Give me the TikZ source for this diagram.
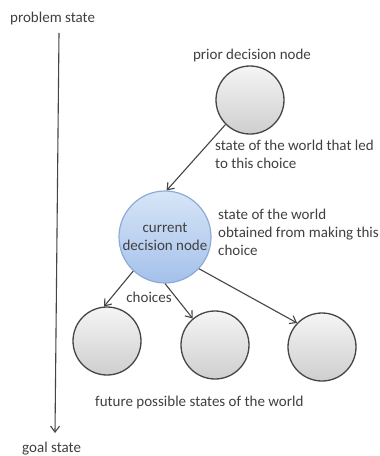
\documentclass[tikz,border=0pt]{standalone}
\usepackage{fontspec}
\setmainfont{Carlito}
\usetikzlibrary{arrows.meta}
\definecolor{txt}{HTML}{404040}
\definecolor{edge}{HTML}{454545}
\definecolor{blueedge}{HTML}{8EABD8}
\tikzset{
  lbl/.style={font=\fontsize{15}{18}\selectfont, text=txt, inner sep=0pt},
  graycirc/.style={circle, draw=edge, line width=1.3pt, top color=gray!8, bottom color=gray!38, minimum size=68pt, inner sep=0pt},
  bluecirc/.style={circle, draw=blueedge, line width=1.2pt, top color=HTMLd7e5f7, bottom color=HTMLa4c1ea, minimum size=92pt, inner sep=0pt, align=center, font=\fontsize{15}{18}\selectfont, text=txt},
  arr/.style={draw=edge, line width=1.1pt, -{Straight Barb[length=6pt,width=9pt]}}
}
\definecolor{HTMLd7e5f7}{HTML}{D7E5F7}
\definecolor{HTMLa4c1ea}{HTML}{A4C1EA}
\begin{document}
\begin{tikzpicture}[x=1pt,y=-1pt]
\useasboundingbox (0,0) rectangle (380,456);
\fill[white] (0,0) rectangle (380,456);
% axis
\node[lbl, anchor=base west] (ps) at (10,22) {problem state};
\node[lbl, anchor=base west] (gs) at (22,452) {goal state};
\coordinate (axtop) at (59,33);
\coordinate (axbot) at (55,433);
\draw[arr] (axtop) -- (axbot);
% nodes
\node[graycirc] (prior) at (250,100) {};
\node[lbl, anchor=base] (priorlbl) at (252,59) {prior decision node};
\node[bluecirc] (cur) at (165,237) {current\\decision node};
\node[graycirc] (b1) at (107,341) {};
\node[graycirc] (b2) at (215,345) {};
\node[graycirc] (b3) at (322,347) {};
% labels
\node[lbl, anchor=north west, align=left] (led) at (215,140) {state of the world that led\\to this choice};
\node[lbl, anchor=north west, align=left] (obt) at (218,209) {state of the world\\obtained from making this\\choice};
\node[lbl, anchor=base] (choices) at (149,302) {choices};
\node[lbl, anchor=base west] (future) at (95,406) {future possible states of the world};
% connectors
\draw[arr] (prior.225) -- (cur.88);
\draw[arr] (cur.227) -- (b1.95);
\draw[arr] (cur.270) -- (b2.130);
\draw[arr] (cur.317) -- (b3.136);
\end{tikzpicture}
\end{document}
